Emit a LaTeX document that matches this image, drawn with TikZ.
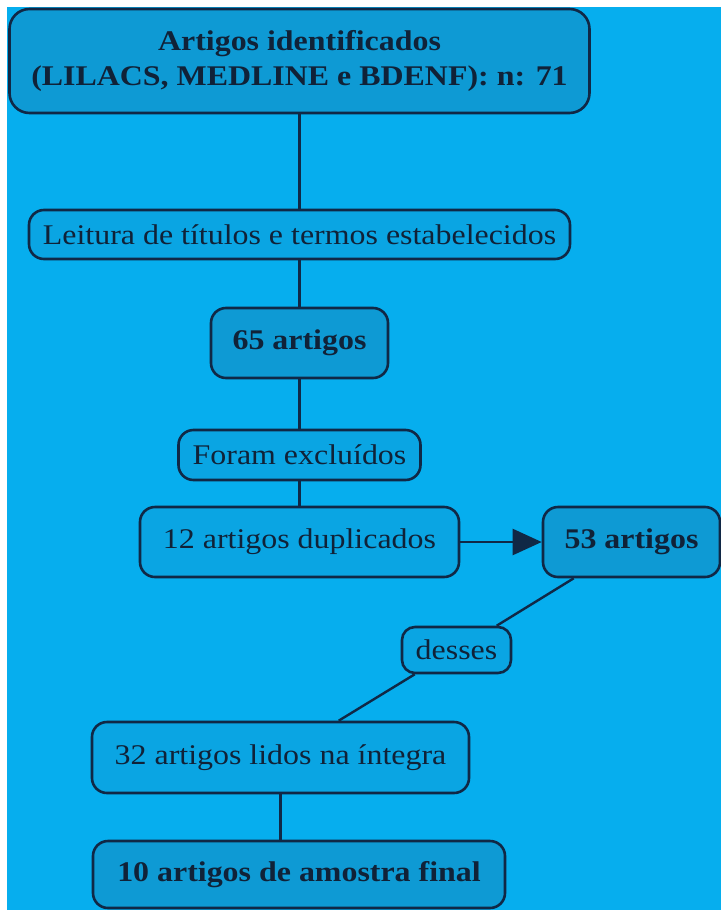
\documentclass[tikz,border=0pt]{standalone}
\usepackage{fontspec}
\setmainfont{Liberation Serif}[FakeStretch=1.12]
\usetikzlibrary{arrows.meta}
\definecolor{bgblue}{RGB}{6,174,238}
\definecolor{boldfill}{RGB}{14,154,212}
\definecolor{regfill}{RGB}{10,165,227}
\definecolor{edgecol}{RGB}{16,40,70}
\definecolor{txtcol}{RGB}{16,34,56}
\tikzset{
  box/.style={draw=edgecol, line width=2.6bp, rounded corners=15bp, inner sep=0pt,
    text=txtcol, font=\fontsize{28.5bp}{35bp}\selectfont, align=center},
  boldbox/.style={box, fill=boldfill, font=\fontsize{28.5bp}{35bp}\selectfont\bfseries},
  regbox/.style={box, fill=regfill},
  conn/.style={draw=edgecol, line width=2.4bp},
}
\begin{document}
\begin{tikzpicture}[x=1bp,y=-1bp]
\useasboundingbox (0,0) rectangle (721,910);
\fill[white] (0,0) rectangle (721,910);
\fill[bgblue] (7,7) rectangle (721,910);

\node[boldbox, minimum width=580bp, minimum height=104bp, rounded corners=20bp] (b1) at (299.5,61)
  {Artigos identificados\\(LILACS, MEDLINE e BDENF): n: 71};
\node[regbox, minimum width=541bp, minimum height=49bp] (b2) at (299.5,234.5)
  {Leitura de títulos e termos estabelecidos};
\node[boldbox, minimum width=177bp, minimum height=70bp] (b3) at (299.5,343) {65 artigos};
\node[regbox, minimum width=242bp, minimum height=50bp] (b4) at (299.5,455) {Foram excluídos};
\node[regbox, minimum width=319bp, minimum height=70bp] (b5) at (299.5,542) {12 artigos duplicados};
\node[boldbox, minimum width=177bp, minimum height=70bp] (b6) at (631.5,542) {53 artigos};
\node[regbox, minimum width=109bp, minimum height=46bp, rounded corners=13bp] (b7) at (456.5,650) {desses};
\node[regbox, minimum width=377bp, minimum height=71bp] (b8) at (280.5,757.5) {32 artigos lidos na íntegra};
\node[boldbox, minimum width=412bp, minimum height=67bp] (b9) at (299,874.5) {10 artigos de amostra final};

\draw[conn] (b1.south) -- (b2.north);
\draw[conn] (b2.south) -- (b3.north);
\draw[conn] (b3.south) -- (b4.north);
\draw[conn] (b4.south) -- (b5.north);
\draw[conn, -{Triangle[length=29bp,width=26bp]}] (b5.east) -- (b6.west);
\draw[conn] ([xshift=32bp]b6.south west) -- ([xshift=96bp]b7.north west);
\draw[conn] ([xshift=14bp]b7.south west) -- ([xshift=248bp]b8.north west);
\draw[conn] (b8.south) -- (b8.south |- b9.north);
\end{tikzpicture}
\end{document}
